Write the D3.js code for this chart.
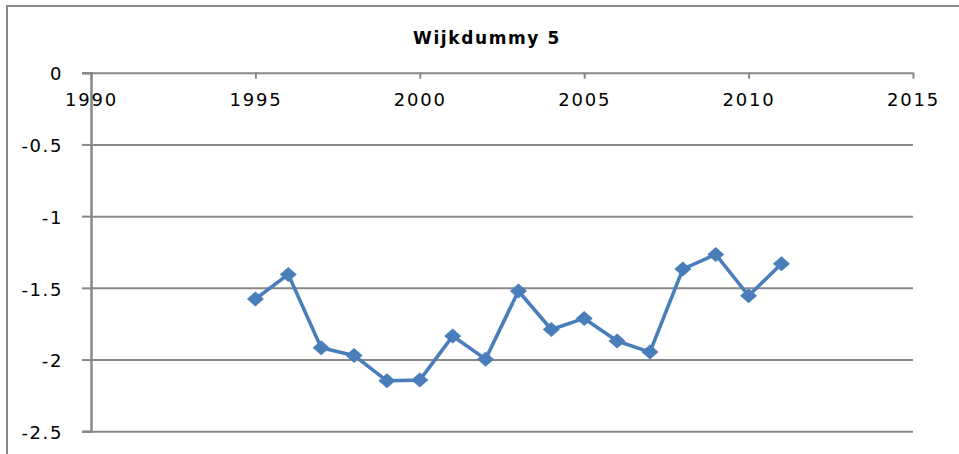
<!DOCTYPE html>
<html>
<head>
<meta charset="utf-8">
<title>Wijkdummy 5</title>
<script src="https://d3js.org/d3.v7.min.js"></script>
<style>
  body { margin: 0; background: #fff; }
  svg { display: block; font-family: "DejaVu Sans", Verdana, sans-serif; }
</style>
</head>
<body>
<svg width="959" height="454"></svg>
<script>
// data
var years = [1995, 1996, 1997, 1998, 1999, 2000, 2001, 2002, 2003, 2004, 2005, 2006, 2007, 2008, 2009, 2010, 2011];
var values = [-1.578, -1.406, -1.918, -1.971, -2.148, -2.143, -1.836, -1.997, -1.522, -1.790, -1.713, -1.871, -1.948, -1.369, -1.267, -1.555, -1.332];
var xTicks = [1990, 1995, 2000, 2005, 2010, 2015];
var yTicks = [0, -0.5, -1, -1.5, -2, -2.5];
var title = "Wijkdummy 5";

var svg = d3.select("svg");
var grey = "#888888";
var blue = "#4a7ebb";

var x = d3.scaleLinear().domain([1990, 2015]).range([91, 913]);
var y = d3.scaleLinear().domain([0, -2.5]).range([72.7, 431.3]);

// chart area border
svg.append("rect")
  .attr("x", 7).attr("y", 6)
  .attr("width", 970).attr("height", 470)
  .attr("fill", "none").attr("stroke", grey).attr("stroke-width", 2);

svg.append("text")
  .attr("x", 487).attr("y", 44)
  .attr("text-anchor", "middle")
  .attr("font-size", 17).attr("font-weight", "bold")
  .attr("letter-spacing", 1.6)
  .attr("fill", "#000")
  .text(title);

// horizontal gridlines + y axis
var yAxis = d3.axisLeft(y).tickValues(yTicks).tickSize(9).tickPadding(19);
var gy = svg.append("g").attr("transform", "translate(91,0)").call(yAxis);
gy.select(".domain").attr("stroke", grey).attr("stroke-width", 2.5);
gy.selectAll(".tick line").attr("stroke", grey).attr("stroke-width", 2);
gy.selectAll(".tick").append("line")
  .attr("x1", 0).attr("x2", 822)
  .attr("stroke", grey).attr("stroke-width", 2);
gy.selectAll(".tick text")
  .attr("font-size", 18).attr("letter-spacing", 1.6)
  .attr("font-family", "DejaVu Sans, Verdana, sans-serif")
  .attr("fill", "#000").attr("dy", "0.4em")
  .text(function(d) { return String(d); });

// x axis sits on the zero line
var xAxis = d3.axisBottom(x).tickValues(xTicks).tickSize(6).tickSizeOuter(0).tickPadding(15)
  .tickFormat(d3.format("d"));
var gx = svg.append("g").attr("transform", "translate(0," + y(0) + ")").call(xAxis);
gx.select(".domain").remove();
gx.selectAll(".tick line").attr("stroke", grey).attr("stroke-width", 2);
gx.selectAll(".tick text")
  .attr("font-size", 18).attr("letter-spacing", 1.8)
  .attr("font-family", "DejaVu Sans, Verdana, sans-serif")
  .attr("fill", "#000");
gy.select(".domain").raise();

var pts = years.map(function(d, i) { return [d, values[i]]; });

svg.append("path")
  .datum(pts)
  .attr("fill", "none")
  .attr("stroke", blue)
  .attr("stroke-width", 3.6)
  .attr("stroke-linejoin", "round")
  .attr("d", d3.line().x(function(d) { return x(d[0]); }).y(function(d) { return y(d[1]); }));

svg.selectAll(".mark")
  .data(pts).enter().append("path")
  .attr("class", "mark")
  .attr("transform", function(d) { return "translate(" + x(d[0]) + "," + y(d[1]) + ")"; })
  .attr("d", "M0,-7.5 L8.5,0 L0,7.5 L-8.5,0 Z")
  .attr("fill", blue);
</script>
</body>
</html>
